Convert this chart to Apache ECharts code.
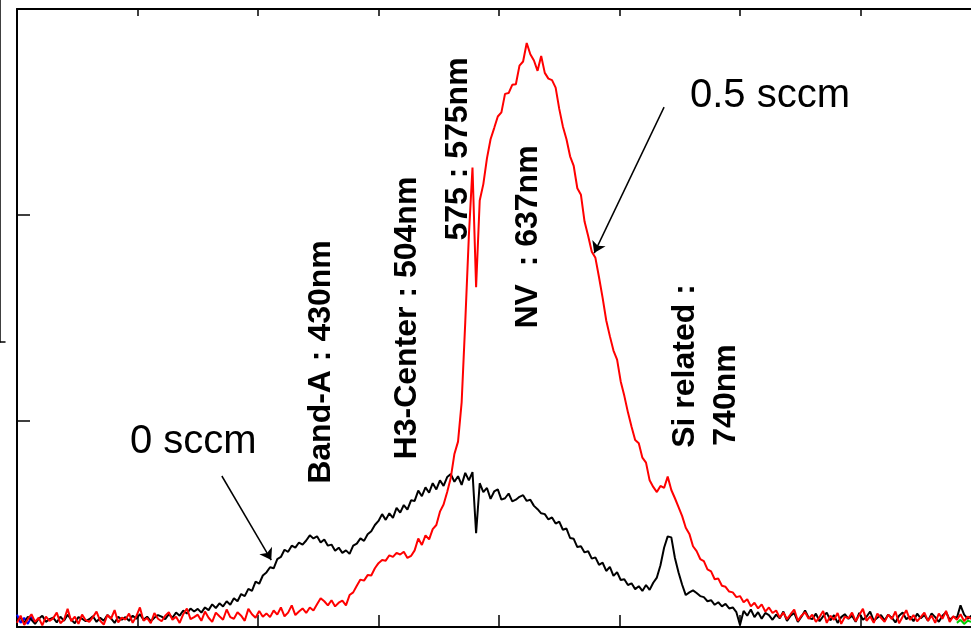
<!DOCTYPE html>
<html lang="en">
<head>
    <meta charset="UTF-8">
    <script src="https://cdnjs.cloudflare.com/ajax/libs/echarts/6.0.0/echarts.min.js"></script>
    <title>PL spectrum</title>
    <style>
        html, body { margin: 0; padding: 0; background: #fff; overflow: hidden; }
    </style>
</head>
<body>

<!-- plot frame runs a bit past the right edge of the window, like the original crop -->
<div id="chart" style="width: 990px;height: 630px"></div>

<script type="text/javascript">
    // wavelength grid (nm), sampled every 3 nm
    var waveStart = 200
    var waveStep = 3

    // 0.5 sccm (red)
    var sccm05 = [
        20, 55, 10, 38, 62, 25, 45, 8, 50, 30,
        42, 70, 18, 35, 88, 28, 50, 15, 60, 33,
        25, 48, 75, 30, 12, 58, 40, 82, 22, 45,
        36, 65, 20, 52, 95, 30, 44, 18, 68, 40,
        28, 55, 72, 35, 50, 20, 62, 90, 38, 48,
        60, 30, 75, 45, 25, 70, 52, 35, 85, 48,
        40, 72, 55, 30, 88, 62, 45, 78, 50, 66,
        48, 80, 60, 95, 52, 70, 105, 58, 75, 90,
        68, 95, 80, 110, 140, 125, 105, 130, 100, 118,
        128, 105, 155, 168, 200, 230, 225, 252, 250, 285,
        310, 325, 322, 348, 340, 360, 352, 365, 335, 345,
        372, 430, 398, 445, 425, 475, 495, 560, 595, 655,
        725, 840, 900, 1090, 1480, 1900, 2230, 1650, 2070, 2150,
        2275, 2368, 2422, 2478, 2498, 2588, 2592, 2632, 2635, 2725,
        2745, 2835, 2780, 2750, 2700, 2772, 2690, 2662, 2655, 2618,
        2515, 2430, 2368, 2285, 2238, 2130, 2098, 1968, 1898, 1822,
        1792, 1698, 1598, 1488, 1412, 1342, 1298, 1192, 1122, 1042,
        972, 908, 892, 822, 798, 712, 680, 655, 685, 675,
        730, 665, 625, 582, 538, 482, 452, 392, 368, 330,
        320, 280, 270, 232, 235, 200, 195, 172, 168, 145,
        150, 120, 135, 100, 118, 90, 110, 75, 95, 68,
        80, 45, 70, 38, 62, 85, 30, 55, 72, 40,
        60, 25, 48, 78, 20, 55, 35, 68, 15, 50,
        42, 70, 28, 58, 88, 30, 52, 20, 65, 45,
        25, 60, 38, 75, 18, 50, 82, 35, 58, 28,
        48, 70, 30, 55, 20, 65, 40, 78, 25, 52,
        35, 62, 28, 50, 40, 55, 30
    ]

    // 0 sccm (black)
    var sccm0 = [
        30, 45, 20, 50, 35, 15, 40, 55, 25, 38,
        45, 22, 50, 30, 60, 35, 18, 48, 40, 28,
        38, 52, 25, 45, 30, 58, 42, 20, 50, 35,
        48, 30, 55, 40, 62, 35, 50, 28, 45, 58,
        50, 38, 62, 45, 70, 55, 80, 65, 90, 75,
        88, 70, 95, 82, 110, 92, 115, 100, 125, 108,
        140, 125, 160, 150, 185, 175, 220, 210, 250, 265,
        290, 285, 330, 340, 375, 365, 395, 385, 410, 400,
        420, 445, 430, 440, 410, 425, 395, 400, 370, 385,
        360, 372, 355, 395, 405, 430, 418, 450, 465, 495,
        515, 548, 520, 552, 530, 578, 555, 592, 570, 615,
        612, 662, 635, 678, 652, 698, 668, 712, 685, 728,
        742, 705, 732, 690, 748, 712, 752, 455, 698, 655,
        675, 622, 658, 668, 618, 625, 648, 610, 618, 632,
        640, 612, 618, 588, 572, 552, 548, 522, 532, 502,
        512, 472, 478, 432, 428, 388, 392, 362, 368, 332,
        338, 302, 312, 272, 292, 248, 266, 228, 232, 204,
        212, 184, 198, 175, 204, 180, 215, 240, 300, 385,
        440, 435, 335, 265, 205, 155, 168, 178, 165, 150,
        145, 125, 130, 108, 120, 100, 112, 90, 95, 72,
        10, 78, 55, 85, 48, 72, 40, 68, 58, 35,
        60, 42, 75, 30, 55, 68, 25, 50, 80, 45,
        38, 65, 28, 52, 70, 32, 58, 20, 48, 62,
        40, 55, 25, 68, 35, 50, 75, 30, 45, 58,
        32, 60, 45, 22, 55, 70, 38, 50, 28, 65,
        42, 58, 30, 66, 48, 25, 55, 72, 35, 50,
        45, 105, 60, 40, 55, 35, 50
    ]

    // bits of the other traces peeking out at the ends
    var blueWave = [200, 203, 206, 209, 212, 215, 218]
    var blueVals = [60, 20, 45, 15, 50, 25, 40]
    var greenWave = [980, 983, 986, 989, 992]
    var greenVals = [20, 35, 15, 30, 25]

    // arrows: [from, to] in (nm, intensity)
    var arrow0 = [[370, 733], [411, 325]]
    var arrow05 = [[737, 2524], [679, 1815]]

    function pairs(xs, ys) {
        var out = []
        for (var i = 0; i < ys.length; i++) out.push([xs[i], ys[i]])
        return out
    }

    var wavelengths = []
    for (var i = 0; i < sccm05.length; i++) wavelengths.push(waveStart + i * waveStep)

    var boldFont = 'bold 32px "Liberation Sans", Arial, sans-serif'
    var plainFont = '40px "Liberation Sans", Arial, sans-serif'

    function vtext(x, y, text) {
        return {
            type: 'text', x: x, y: y, rotation: Math.PI / 2, z: 100,
            style: { text: text, font: boldFont, fill: '#000', align: 'center', verticalAlign: 'middle' }
        }
    }

    var myChart = echarts.init(document.getElementById('chart'))
    var option = {
        animation: false,
        backgroundColor: '#fff',
        grid: [
            { left: 17, top: 9, right: 9, bottom: 3 },
            { left: 0, top: 0, width: 5, height: 342 }
        ],
        xAxis: [
            {
                type: 'value', min: 200, max: 1000, interval: 100, gridIndex: 0,
                axisLine: { lineStyle: { color: '#000', width: 2 } },
                axisTick: { inside: true, length: 12, lineStyle: { color: '#000', width: 1.5 } },
                axisLabel: { show: false }, splitLine: { show: false }
            },
            {
                type: 'value', min: 200, max: 1000, interval: 100, gridIndex: 0, position: 'top',
                axisLine: { lineStyle: { color: '#000', width: 2 } },
                axisTick: { inside: true, length: 7, lineStyle: { color: '#000', width: 1.5 } },
                axisLabel: { show: false }, splitLine: { show: false }
            },
            {
                type: 'value', min: 0, max: 1, gridIndex: 1,
                axisLine: { lineStyle: { color: '#000', width: 1.5 } },
                axisTick: { show: false }, axisLabel: { show: false }, splitLine: { show: false }
            }
        ],
        yAxis: [
            {
                type: 'value', min: 0, max: 3000, interval: 1000, gridIndex: 0,
                axisLine: { show: true, lineStyle: { color: '#000', width: 2 } },
                axisTick: { show: true, inside: true, length: 13, lineStyle: { color: '#000', width: 1.5 } },
                axisLabel: { show: false }, splitLine: { show: false }
            },
            {
                type: 'value', min: 0, max: 6, interval: 1, gridIndex: 1, position: 'right',
                axisLine: { show: true, lineStyle: { color: '#000', width: 1.5 } },
                axisTick: { show: true, inside: true, length: 4, lineStyle: { color: '#000', width: 1.2 } },
                axisLabel: { show: false }, splitLine: { show: false }
            }
        ],
        series: [
            {
                name: 'blue', type: 'line', xAxisIndex: 0, yAxisIndex: 0,
                data: pairs(blueWave, blueVals), showSymbol: false,
                lineStyle: { color: '#0000ff', width: 2 }
            },
            {
                name: '0 sccm', type: 'line', xAxisIndex: 0, yAxisIndex: 0,
                data: pairs(wavelengths, sccm0), showSymbol: false,
                lineStyle: { color: '#000', width: 2 },
                markLine: {
                    silent: true, symbol: ['none', 'arrow'], symbolSize: 11,
                    label: { show: false },
                    lineStyle: { color: '#000', width: 1.5, type: 'solid' },
                    data: [
                        [{ coord: arrow0[0] }, { coord: arrow0[1] }],
                        [{ coord: arrow05[0] }, { coord: arrow05[1] }]
                    ]
                }
            },
            {
                name: '0.5 sccm', type: 'line', xAxisIndex: 0, yAxisIndex: 0,
                data: pairs(wavelengths, sccm05), showSymbol: false,
                lineStyle: { color: '#ff0000', width: 2 }
            },
            {
                name: 'green', type: 'line', xAxisIndex: 0, yAxisIndex: 0,
                data: pairs(greenWave, greenVals), showSymbol: false,
                lineStyle: { color: '#00cc00', width: 2 }
            }
        ],
        graphic: [
            vtext(321, 362, 'Band-A : 430nm'),
            vtext(407, 318, 'H3-Center : 504nm'),
            vtext(458, 149, '575 : 575nm'),
            vtext(528, 237, 'NV  : 637nm'),
            vtext(685, 366, 'Si related :'),
            vtext(726, 395, '740nm'),
            {
                type: 'text', x: 130, y: 442, z: 100,
                style: { text: '0 sccm', font: plainFont, fill: '#000', align: 'left', verticalAlign: 'middle' }
            },
            {
                type: 'text', x: 690, y: 96, z: 100,
                style: { text: '0.5 sccm', font: plainFont, fill: '#000', align: 'left', verticalAlign: 'middle' }
            }
        ]
    }
    myChart.setOption(option)
</script>
</body>
</html>
